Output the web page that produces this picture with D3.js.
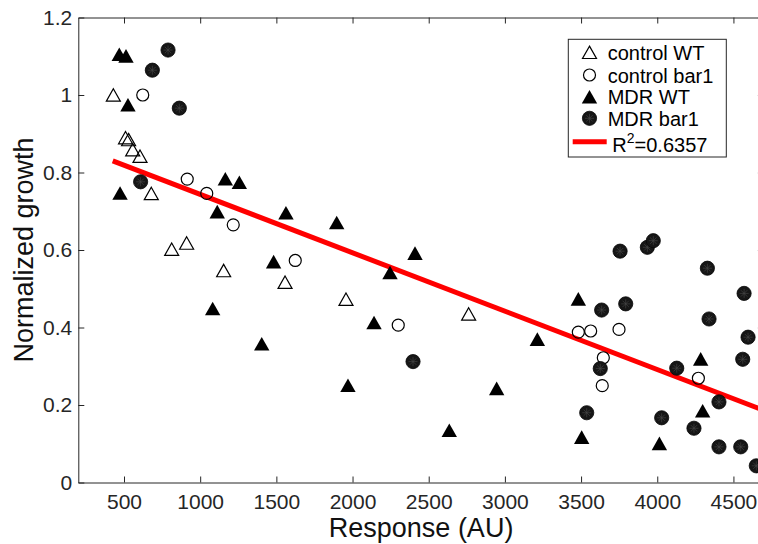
<!DOCTYPE html>
<html><head><meta charset="utf-8">
<script src="https://cdn.jsdelivr.net/npm/d3@7"></script>
<style>
body{margin:0;background:#fff}
svg{display:block}
text{font-family:"Liberation Sans",Arial,Helvetica,sans-serif}
</style>
</head><body>
<svg id="c" width="758" height="544"></svg>
<script>
// ---- data ----
const xTicks = [500, 1000, 1500, 2000, 2500, 3000, 3500, 4000, 4500];
const yTicks = [0, 0.2, 0.4, 0.6, 0.8, 1, 1.2];
const yTickLabels = ["0", "0.2", "0.4", "0.6", "0.8", "1", "1.2"];

const controlWT_x = [430, 510, 530, 557, 605, 679, 813, 911, 1154, 1557, 1957, 2762];
const controlWT_y = [1.00, 0.89, 0.885, 0.859, 0.842, 0.746, 0.602, 0.618, 0.547, 0.517, 0.473, 0.435];

const controlBar1_x = [623, 915, 1043, 1217, 1624, 2300, 3482, 3563, 3749, 3646, 3639, 4270];
const controlBar1_y = [1.00, 0.783, 0.746, 0.665, 0.573, 0.406, 0.388, 0.391, 0.395, 0.322, 0.250, 0.269];

const mdrWT_x = [469, 513, 526, 474, 1112, 1165, 1257, 1563, 1482, 1082, 1404, 1896, 2410, 2246, 2141, 1970, 2635, 2946, 3213, 3482, 3504, 4014, 4285, 4298];
const mdrWT_y = [1.105, 1.101, 0.975, 0.747, 0.699, 0.784, 0.775, 0.696, 0.570, 0.449, 0.358, 0.671, 0.592, 0.542, 0.413, 0.251, 0.135, 0.243, 0.370, 0.474, 0.117, 0.101, 0.319, 0.185];

const mdrBar1_x = [789, 686, 863, 609, 2397, 3537, 3635, 3793, 3626, 3756, 3935, 3974, 4029, 4128, 4241, 4329, 4340, 4405, 4405, 4548, 4570, 4596, 4561, 4650];
const mdrBar1_y = [1.116, 1.064, 0.966, 0.776, 0.312, 0.180, 0.445, 0.461, 0.294, 0.597, 0.607, 0.624, 0.167, 0.295, 0.140, 0.553, 0.422, 0.208, 0.092, 0.092, 0.488, 0.375, 0.318, 0.043];

const fit_x = [426, 4700];
const fit_y = [0.830, 0.186];

const seriesNames = ["control WT", "control bar1", "MDR WT", "MDR bar1"];
const fitLabel = "=0.6357";

// ---- layout ----
const svg = d3.select("#c");
const L = 78.3, R = 763.9, T = 17.5, B = 482.5;
const x = d3.scaleLinear().domain([200, 4700]).range([L, R]);
const y = d3.scaleLinear().domain([0, 1.2]).range([B, T]);
const axCol = "#262626";

svg.append("defs").append("clipPath").attr("id", "clip")
  .append("rect").attr("x", L).attr("y", T).attr("width", R - L).attr("height", B - T);

// axes
function styleAxis(g, fs) {
  g.selectAll("path.domain").attr("stroke", axCol).attr("stroke-width", 1);
  g.selectAll(".tick line").attr("stroke", axCol).attr("stroke-width", 1);
  g.selectAll("text").attr("fill", axCol).attr("font-size", fs)
    .style("font-family", '"Liberation Sans", Arial, sans-serif');
}
const gx = svg.append("g").attr("transform", `translate(0,${B})`)
  .call(d3.axisBottom(x).tickValues(xTicks).tickSizeInner(-6).tickSizeOuter(0).tickPadding(12).tickFormat(d3.format("d")));
styleAxis(gx, 21);
const gy = svg.append("g").attr("transform", `translate(${L},0)`)
  .call(d3.axisLeft(y).tickValues(yTicks).tickSizeInner(-6).tickSizeOuter(0).tickPadding(6).tickFormat((d, i) => yTickLabels[i]));
styleAxis(gy, 21);
const gt = svg.append("g").attr("transform", `translate(0,${T})`)
  .call(d3.axisTop(x).tickValues(xTicks).tickSizeInner(-6).tickSizeOuter(0).tickFormat(""));
styleAxis(gt, 21);
const gr = svg.append("g").attr("transform", `translate(${R},0)`)
  .call(d3.axisRight(y).tickValues(yTicks).tickSizeInner(-6).tickSizeOuter(0).tickFormat(""));
styleAxis(gr, 21);

// axis labels
svg.append("text").attr("x", (L + R) / 2).attr("y", 537).attr("text-anchor", "middle")
  .attr("font-size", 27).attr("fill", "#111").text("Response (AU)");
svg.append("text").attr("transform", `translate(33,${(T + B) / 2}) rotate(-90)`).attr("text-anchor", "middle")
  .attr("font-size", 27).attr("fill", "#111").text("Normalized growth");

// fit line
svg.append("line").attr("clip-path", "url(#clip)")
  .attr("x1", x(fit_x[0])).attr("y1", y(fit_y[0]))
  .attr("x2", x(fit_x[1])).attr("y2", y(fit_y[1]))
  .attr("stroke", "#ff0000").attr("stroke-width", 5);

// marker drawers
function openTri(g, cx, cy) {
  g.append("path").attr("d", `M${cx},${cy - 6.2}L${cx + 7},${cy + 6.2}L${cx - 7},${cy + 6.2}Z`)
    .attr("fill", "none").attr("stroke", "#000").attr("stroke-width", 1.2);
}
function fillTri(g, cx, cy) {
  g.append("path").attr("d", `M${cx},${cy - 6.8}L${cx + 7.7},${cy + 6.8}L${cx - 7.7},${cy + 6.8}Z`)
    .attr("fill", "#000");
}
function openCirc(g, cx, cy) {
  g.append("circle").attr("cx", cx).attr("cy", cy).attr("r", 6)
    .attr("fill", "none").attr("stroke", "#000").attr("stroke-width", 1.2);
}
function fillCirc(g, cx, cy) {
  g.append("circle").attr("cx", cx).attr("cy", cy).attr("r", 7.1)
    .attr("fill", "#161616").attr("stroke", "#050505").attr("stroke-width", 0.8);
  for (let k = 0; k < 8; k++) {
    const a = k * Math.PI / 4;
    g.append("line").attr("x1", cx).attr("y1", cy)
      .attr("x2", cx + 4.5 * Math.cos(a)).attr("y2", cy + 4.5 * Math.sin(a))
      .attr("stroke", "#4a4a4a").attr("stroke-width", 0.6);
  }
}

const pts = svg.append("g");
controlWT_x.forEach((v, i) => openTri(pts, x(v), y(controlWT_y[i])));
controlBar1_x.forEach((v, i) => openCirc(pts, x(v), y(controlBar1_y[i])));
mdrWT_x.forEach((v, i) => fillTri(pts, x(v), y(mdrWT_y[i])));
mdrBar1_x.forEach((v, i) => fillCirc(pts, x(v), y(mdrBar1_y[i])));

// legend
const lg = svg.append("g");
lg.append("rect").attr("x", 568.3).attr("y", 39.3).attr("width", 158).attr("height", 117.7)
  .attr("fill", "#fff").attr("stroke", axCol).attr("stroke-width", 1);
const mx = 589.5, tx = 607.7;
const rowY = [52.3, 75, 96.7, 118.3];
const drawers = [openTri, openCirc, fillTri, fillCirc];
seriesNames.forEach((n, i) => {
  drawers[i](lg, mx, rowY[i]);
  lg.append("text").attr("x", tx).attr("y", rowY[i] + 7.5).attr("font-size", 20).attr("fill", "#000").text(n);
});
lg.append("line").attr("x1", 572.7).attr("x2", 606.7).attr("y1", 141.7).attr("y2", 141.7)
  .attr("stroke", "#ff0000").attr("stroke-width", 5);
const rt = lg.append("text").attr("x", 612.3).attr("y", 151.7).attr("font-size", 20).attr("fill", "#000");
rt.append("tspan").text("R");
rt.append("tspan").attr("font-size", 14).attr("dy", -9).text("2");
rt.append("tspan").attr("dy", 9).text(fitLabel);
</script>
</body></html>
